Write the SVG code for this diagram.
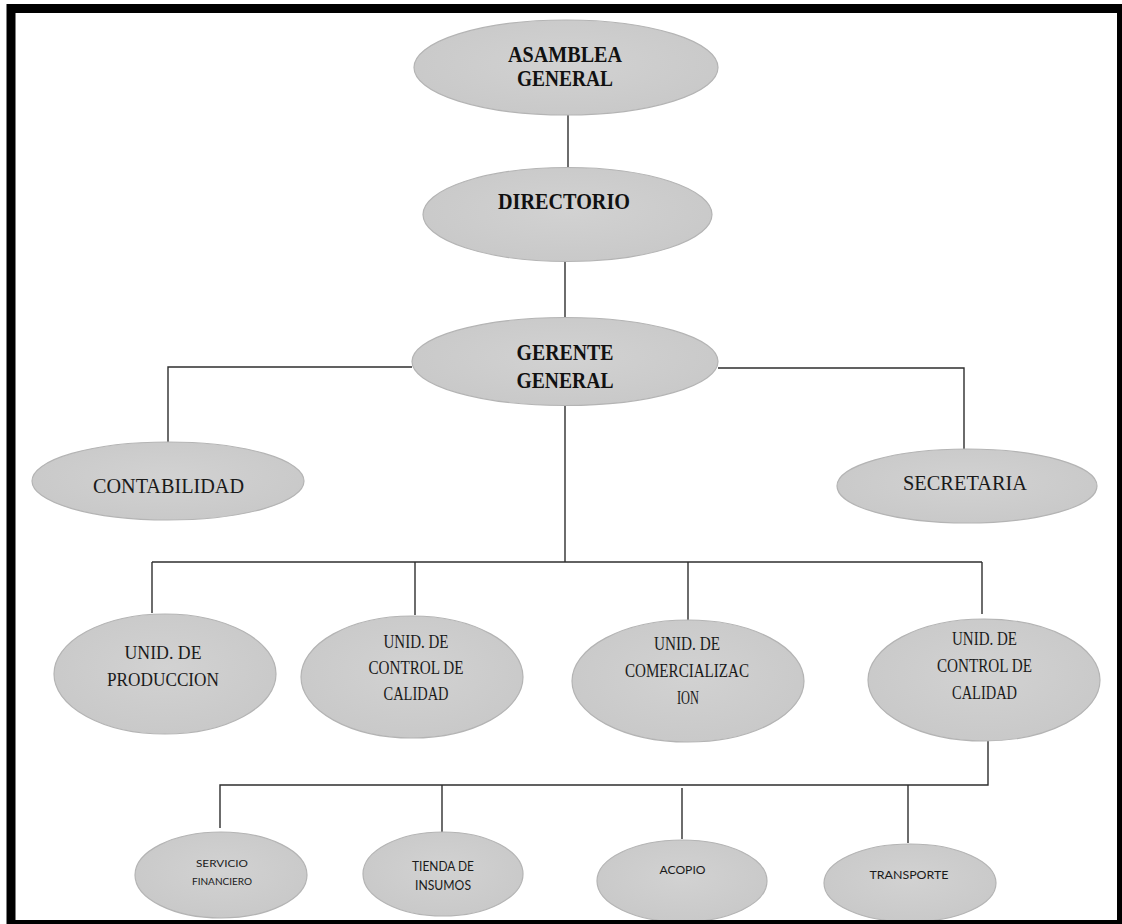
<svg xmlns="http://www.w3.org/2000/svg" width="1122" height="924" viewBox="0 0 1122 924">
<defs>
<radialGradient id="g" cx="50%" cy="45%" r="60%">
<stop offset="0" stop-color="#d2d2d2"/>
<stop offset="1" stop-color="#c8c8c8"/>
</radialGradient>
<style>
.n{fill:url(#g);stroke:#b4b4b4;stroke-width:1.2}
.c{fill:none;stroke:#2e2e2e;stroke-width:1.4}
.tb{font-family:"Liberation Serif",serif;font-weight:bold;font-size:23px;fill:#111;text-anchor:middle}
.tr{font-family:"Liberation Serif",serif;font-size:21px;fill:#1a1a1a;text-anchor:middle}
.tm{font-family:"Liberation Serif",serif;font-size:19px;fill:#1a1a1a;text-anchor:middle}
.ts{font-family:Lato,"Liberation Sans",sans-serif;fill:#1a1a1a;text-anchor:middle}
</style>
</defs>
<rect width="1122" height="924" fill="#fff"/>
<g id="connectors">
<path class="c" d="M568 115V167"/>
<path class="c" d="M565 261V318"/>
<path class="c" d="M412 367H168V446"/>
<path class="c" d="M718 368H964V449"/>
<path class="c" d="M565 405V562"/>
<path class="c" d="M152 562H982"/>
<path class="c" d="M152 562V613"/>
<path class="c" d="M415 562V615"/>
<path class="c" d="M688 562V621"/>
<path class="c" d="M982 562V614"/>
<path class="c" d="M988 741V785H220V828"/>
<path class="c" d="M442 785V832"/>
<path class="c" d="M682 788V839"/>
<path class="c" d="M908 785V843"/>
</g>
<g id="asamblea">
<ellipse class="n" cx="566" cy="67.5" rx="152" ry="47.5"/>
<text class="tb" x="565" y="62" textLength="114" lengthAdjust="spacingAndGlyphs">ASAMBLEA</text>
<text class="tb" x="565" y="86" textLength="96" lengthAdjust="spacingAndGlyphs">GENERAL</text>
</g>
<g id="directorio">
<ellipse class="n" cx="567.5" cy="214.5" rx="144.5" ry="47"/>
<text class="tb" x="564" y="209" textLength="132" lengthAdjust="spacingAndGlyphs">DIRECTORIO</text>
</g>
<g id="gerente">
<ellipse class="n" cx="565" cy="361.5" rx="153" ry="44"/>
<text class="tb" x="565" y="360" textLength="97" lengthAdjust="spacingAndGlyphs">GERENTE</text>
<text class="tb" x="565" y="388" textLength="97" lengthAdjust="spacingAndGlyphs">GENERAL</text>
</g>
<g id="contabilidad">
<ellipse class="n" cx="168" cy="481" rx="136" ry="39"/>
<text class="tr" x="168.5" y="493" textLength="151" lengthAdjust="spacingAndGlyphs">CONTABILIDAD</text>
</g>
<g id="secretaria">
<ellipse class="n" cx="967" cy="486" rx="130" ry="37"/>
<text class="tr" x="965" y="490" textLength="124" lengthAdjust="spacingAndGlyphs">SECRETARIA</text>
</g>
<g id="produccion">
<ellipse class="n" cx="165" cy="674" rx="111" ry="60"/>
<text class="tm" x="163" y="659" textLength="77" lengthAdjust="spacingAndGlyphs">UNID. DE</text>
<text class="tm" x="163" y="686" textLength="112" lengthAdjust="spacingAndGlyphs">PRODUCCION</text>
</g>
<g id="calidad1">
<ellipse class="n" cx="412" cy="677" rx="111" ry="61"/>
<text class="tm" x="416" y="648" textLength="65" lengthAdjust="spacingAndGlyphs">UNID. DE</text>
<text class="tm" x="416" y="674" textLength="95" lengthAdjust="spacingAndGlyphs">CONTROL DE</text>
<text class="tm" x="416" y="700" textLength="65" lengthAdjust="spacingAndGlyphs">CALIDAD</text>
</g>
<g id="comercializacion">
<ellipse class="n" cx="688" cy="681" rx="116" ry="61"/>
<text class="tm" x="687" y="650" textLength="66" lengthAdjust="spacingAndGlyphs">UNID. DE</text>
<text class="tm" x="687" y="677" textLength="124" lengthAdjust="spacingAndGlyphs">COMERCIALIZAC</text>
<text class="tm" x="688" y="704" textLength="22" lengthAdjust="spacingAndGlyphs">ION</text>
</g>
<g id="calidad2">
<ellipse class="n" cx="984" cy="680" rx="116" ry="61"/>
<text class="tm" x="984.5" y="645" textLength="65" lengthAdjust="spacingAndGlyphs">UNID. DE</text>
<text class="tm" x="984.5" y="672" textLength="95" lengthAdjust="spacingAndGlyphs">CONTROL DE</text>
<text class="tm" x="984.5" y="699" textLength="65" lengthAdjust="spacingAndGlyphs">CALIDAD</text>
</g>
<g id="servicio">
<ellipse class="n" cx="221" cy="875" rx="86" ry="43"/>
<text class="ts" x="222" y="867" font-size="10" textLength="52" lengthAdjust="spacingAndGlyphs">SERVICIO</text>
<text class="ts" x="222" y="885" font-size="10" textLength="60" lengthAdjust="spacingAndGlyphs">FINANCIERO</text>
</g>
<g id="tienda">
<ellipse class="n" cx="443" cy="874" rx="80" ry="42"/>
<text class="ts" x="443" y="871" font-size="13" textLength="62" lengthAdjust="spacingAndGlyphs">TIENDA DE</text>
<text class="ts" x="443" y="890" font-size="13" textLength="56" lengthAdjust="spacingAndGlyphs">INSUMOS</text>
</g>
<g id="acopio">
<ellipse class="n" cx="682" cy="881" rx="85" ry="41"/>
<text class="ts" x="682.5" y="874" font-size="12" textLength="46" lengthAdjust="spacingAndGlyphs">ACOPIO</text>
</g>
<g id="transporte">
<ellipse class="n" cx="910" cy="883" rx="86" ry="39"/>
<text class="ts" x="909" y="879" font-size="12" textLength="79" lengthAdjust="spacingAndGlyphs">TRANSPORTE</text>
</g>
<rect id="frame" x="11" y="8.5" width="1110.5" height="916" fill="none" stroke="#000" stroke-width="9"/>
</svg>
